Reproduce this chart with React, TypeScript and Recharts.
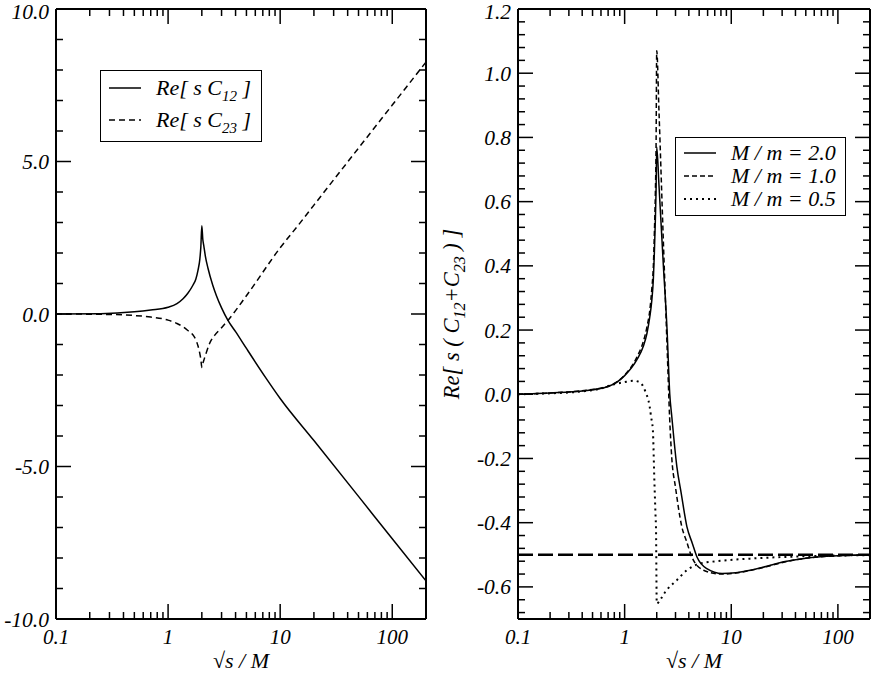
import { LineChart, Line, XAxis, YAxis, ReferenceLine, Legend } from 'recharts';

const FONT = "'Liberation Serif', serif";

// Left panel: Re[ s C12 ] and Re[ s C23 ] against sqrt(s)/M
const c12X = [0.1, 0.25, 0.5, 0.7, 1.0, 1.2, 1.36, 1.5, 1.67, 1.77, 1.85, 1.92, 1.96, 2.0, 2.04, 2.08, 2.15, 2.27, 2.5, 2.7, 3.0, 3.42, 4.0, 5.0, 7.5, 10, 20, 50, 100, 200];
const c12Y = [0, 0.01, 0.07, 0.13, 0.22, 0.34, 0.5, 0.68, 0.95, 1.15, 1.44, 1.8, 2.2, 2.89, 2.45, 2.25, 1.9, 1.5, 0.95, 0.6, 0.2, -0.21, -0.58, -1.13, -2.11, -2.77, -4.15, -5.98, -7.37, -8.75];

const c23X = [0.1, 0.25, 0.5, 0.7, 1.0, 1.2, 1.36, 1.5, 1.67, 1.77, 1.85, 1.92, 1.96, 2.0, 2.05, 2.1, 2.2, 2.35, 2.6, 3.0, 3.42, 5.0, 10, 15, 20, 50, 100, 200];
const c23Y = [0, -0.01, -0.05, -0.1, -0.2, -0.31, -0.42, -0.54, -0.69, -0.85, -1.05, -1.3, -1.48, -1.75, -1.6, -1.48, -1.25, -0.96, -0.7, -0.45, -0.21, 0.6, 2.17, 2.98, 3.57, 5.44, 6.85, 8.26];

// Right panel: Re[ s ( C12 + C23 ) ] for three mass ratios
const m20X = [0.1, 0.2, 0.4, 0.7, 1.0, 1.3, 1.5, 1.62, 1.72, 1.8, 1.86, 1.9, 1.94, 1.97, 2.0, 2.1, 2.3, 2.5, 2.65, 2.77, 3.09, 3.4, 3.84, 4.3, 4.77, 5.9, 8.2, 11, 15, 22, 31, 45, 64, 100, 200];
const m20Y = [0, 0.004, 0.01, 0.024, 0.058, 0.107, 0.15, 0.19, 0.24, 0.294, 0.36, 0.44, 0.54, 0.63, 0.77, 0.65, 0.41, 0.2, 0.0, -0.07, -0.226, -0.31, -0.413, -0.463, -0.507, -0.543, -0.558, -0.556, -0.548, -0.535, -0.522, -0.513, -0.507, -0.503, -0.501];

const m10X = [0.1, 0.2, 0.4, 0.7, 1.0, 1.3, 1.5, 1.62, 1.72, 1.8, 1.86, 1.9, 1.94, 1.97, 2.0, 2.1, 2.3, 2.5, 2.64, 2.77, 3.0, 3.44, 3.8, 4.27, 5.5, 7.9, 11, 15, 22, 31, 45, 64, 100, 200];
const m10Y = [0, 0.004, 0.011, 0.025, 0.06, 0.115, 0.165, 0.21, 0.26, 0.33, 0.4, 0.5, 0.62, 0.76, 1.07, 0.88, 0.49, 0.15, -0.07, -0.2, -0.29, -0.413, -0.457, -0.507, -0.548, -0.56, -0.557, -0.549, -0.536, -0.523, -0.513, -0.507, -0.503, -0.501];

const m05X = [0.1, 0.2, 0.4, 0.6, 0.78, 1.0, 1.23, 1.4, 1.5, 1.6, 1.67, 1.72, 1.77, 1.84, 1.9, 1.95, 1.97, 2.0, 2.2, 2.4, 3.09, 3.84, 5.1, 7.3, 15, 45, 200];
const m05Y = [0, 0.003, 0.009, 0.018, 0.03, 0.038, 0.042, 0.036, 0.023, 0.0, -0.018, -0.04, -0.07, -0.112, -0.268, -0.38, -0.423, -0.652, -0.636, -0.616, -0.579, -0.548, -0.527, -0.52, -0.512, -0.505, -0.501];

const asymptote = -0.5;

// Axis ticks
const xMajor = [0.1, 1, 10, 100];
const xMajorLabels = ['0.1', '1', '10', '100'];
const xMinor = [0.2, 0.3, 0.4, 0.5, 0.6, 0.7, 0.8, 0.9, 2, 3, 4, 5, 6, 7, 8, 9, 20, 30, 40, 50, 60, 70, 80, 90];
const xTicks = [...xMajor, ...xMinor].sort((a, b) => a - b);

const leftMajor = [-10, -5, 0, 5, 10];
const leftMajorLabels = ['-10.0', '-5.0', '0.0', '5.0', '10.0'];
const leftMinor = [-9, -8, -7, -6, -4, -3, -2, -1, 1, 2, 3, 4, 6, 7, 8, 9];
const leftTicks = [...leftMajor, ...leftMinor].sort((a, b) => a - b);

const rightMajor = [-0.6, -0.4, -0.2, 0, 0.2, 0.4, 0.6, 0.8, 1.0, 1.2];
const rightMajorLabels = ['-0.6', '-0.4', '-0.2', '0.0', '0.2', '0.4', '0.6', '0.8', '1.0', '1.2'];
const rightTicks: number[] = [];
for (let i = 0; i <= 47; i++) rightTicks.push(Math.round((-0.68 + 0.04 * i) * 100) / 100);

const zip = (xs: number[], ys: number[]) => xs.map((x, i) => ({ x, y: ys[i] }));

const findIdx = (arr: number[], v: number) => arr.findIndex((m) => Math.abs(m - v) < 1e-9);

const makeXTick = (side: 'top' | 'bottom') => (props: any) => {
  const { x, y, payload } = props;
  const idx = findIdx(xMajor, payload.value);
  const len = idx >= 0 ? 15 : 7;
  const dir = side === 'bottom' ? -1 : 1;
  return (
    <g>
      <line x1={x} x2={x} y1={y} y2={y + dir * len} stroke="#000" strokeWidth={1.5} />
      {side === 'bottom' && idx >= 0 && (
        <text x={x} y={y + 25} textAnchor="middle" fontFamily={FONT} fontStyle="italic" fontSize={21} fill="#000">
          {xMajorLabels[idx]}
        </text>
      )}
    </g>
  );
};

const makeYTick = (side: 'left' | 'right', major: number[], labels: string[]) => (props: any) => {
  const { x, y, payload } = props;
  const idx = findIdx(major, payload.value);
  const len = idx >= 0 ? 15 : 7;
  const dir = side === 'left' ? 1 : -1;
  return (
    <g>
      <line x1={x} x2={x + dir * len} y1={y} y2={y} stroke="#000" strokeWidth={1.5} />
      {side === 'left' && idx >= 0 && (
        <text x={x - 7} y={Math.max(y + 7.5, 19)} textAnchor="end" fontFamily={FONT} fontStyle="italic" fontSize={21.5} fill="#000">
          {labels[idx]}
        </text>
      )}
    </g>
  );
};

const xLabel = (props: any) => {
  const vb = props.viewBox;
  return (
    <text x={vb.x + vb.width / 2} y={vb.y + 49} textAnchor="middle" fontFamily={FONT} fontStyle="italic" fontSize={22} fill="#000">
      √s / M
    </text>
  );
};

const yLabelRight = (props: any) => {
  const vb = props.viewBox;
  const cy = vb.y + vb.height / 2;
  return (
    <text transform={`translate(23,${cy}) rotate(-90)`} textAnchor="middle" fontFamily={FONT} fontStyle="italic" fontSize={22.5} fill="#000">
      Re[ s ( C<tspan fontSize={16} dy={6}>12</tspan><tspan dy={-6}>+C</tspan><tspan fontSize={16} dy={6}>23</tspan><tspan dy={-6}> ) ]</tspan>
    </text>
  );
};

const axisLine = { stroke: '#000', strokeWidth: 2 };

const Sample = ({ dash, width = 1.5 }: { dash?: string; width?: number }) => (
  <svg width={32} height={6} style={{ position: 'absolute', left: 8, top: 9 }}>
    <line x1={0} x2={32} y1={3} y2={3} stroke="#000" strokeWidth={width} strokeDasharray={dash} />
  </svg>
);

const Sub = ({ children }: { children: string }) => (
  <span style={{ fontSize: 15, position: 'relative', top: 6 }}>{children}</span>
);

const textStyle = { position: 'absolute' as const, left: 55, top: 0, lineHeight: '24px', whiteSpace: 'nowrap' as const };

const LeftLegend = () => (
  <div style={{ position: 'relative', width: 162, height: 72, border: '1.5px solid #000', boxSizing: 'border-box', background: '#fff', fontFamily: FONT, fontStyle: 'italic', fontSize: 22, color: '#000' }}>
    <div style={{ position: 'absolute', left: 0, top: 5, width: 160, height: 24 }}>
      <Sample />
      <span style={textStyle}>Re[ s C<Sub>12</Sub> ]</span>
    </div>
    <div style={{ position: 'absolute', left: 0, top: 37, width: 160, height: 24 }}>
      <Sample dash="6 4" />
      <span style={textStyle}>Re[ s C<Sub>23</Sub> ]</span>
    </div>
  </div>
);

const RightLegend = () => (
  <div style={{ position: 'relative', width: 171, height: 79, border: '1.5px solid #000', boxSizing: 'border-box', background: '#fff', fontFamily: FONT, fontStyle: 'italic', fontSize: 22, color: '#000' }}>
    <div style={{ position: 'absolute', left: 0, top: 3, width: 168, height: 24 }}>
      <Sample />
      <span style={textStyle}>M / m = 2.0</span>
    </div>
    <div style={{ position: 'absolute', left: 0, top: 26, width: 168, height: 24 }}>
      <Sample dash="5 3" />
      <span style={textStyle}>M / m = 1.0</span>
    </div>
    <div style={{ position: 'absolute', left: 0, top: 49, width: 168, height: 24 }}>
      <Sample dash="2 4" width={2} />
      <span style={textStyle}>M / m = 0.5</span>
    </div>
  </div>
);

// axes of size 1 px: zero-sized axes are not drawn
const frameAxes = (yDomain: number[], yTicks: number[], major: number[], labels: string[], yLabel?: any) => [
  <XAxis key="xb" xAxisId="b" dataKey="x" type="number" scale="log" domain={[0.1, 200]} allowDataOverflow ticks={xTicks} interval={0} tick={makeXTick('bottom')} tickLine={false} tickSize={0} tickMargin={0} height={1} axisLine={axisLine} label={{ content: xLabel }} />,
  <XAxis key="xt" xAxisId="t" orientation="top" dataKey="x" type="number" scale="log" domain={[0.1, 200]} allowDataOverflow ticks={xTicks} interval={0} tick={makeXTick('top')} tickLine={false} tickSize={0} tickMargin={0} height={1} axisLine={axisLine} />,
  <YAxis key="yl" yAxisId="l" type="number" domain={yDomain} allowDataOverflow ticks={yTicks} interval={0} tick={makeYTick('left', major, labels)} tickLine={false} tickSize={0} tickMargin={0} width={1} axisLine={axisLine} label={yLabel ? { content: yLabel } : undefined} />,
  <YAxis key="yr" yAxisId="r" orientation="right" type="number" domain={yDomain} allowDataOverflow ticks={yTicks} interval={0} tick={makeYTick('right', major, labels)} tickLine={false} tickSize={0} tickMargin={0} width={1} axisLine={axisLine} />,
];

export default function App() {
  return (
    <div style={{ position: 'absolute', left: 0, top: 0, width: 872, height: 673, background: '#fff' }}>
      <div style={{ position: 'absolute', left: 0, top: 0 }}>
        <LineChart width={436} height={673} margin={{ top: 8, right: 9, bottom: 53, left: 55 }}>
          {frameAxes([-10, 10], leftTicks, leftMajor, leftMajorLabels)}
          <Line xAxisId="b" yAxisId="l" data={zip(c12X, c12Y)} dataKey="y" type="monotone" stroke="#000" strokeWidth={1.5} dot={false} isAnimationActive={false} />
          <Line xAxisId="b" yAxisId="l" data={zip(c23X, c23Y)} dataKey="y" type="monotone" stroke="#000" strokeWidth={1.5} strokeDasharray="6 4" dot={false} isAnimationActive={false} />
          <Legend layout="vertical" align="center" verticalAlign="middle" content={() => <LeftLegend />} wrapperStyle={{ left: 100, top: 70, width: 162, height: 72 }} />
        </LineChart>
      </div>
      <div style={{ position: 'absolute', left: 436, top: 0 }}>
        <LineChart width={436} height={673} margin={{ top: 8, right: 1, bottom: 53, left: 81 }}>
          {frameAxes([-0.7, 1.2], rightTicks, rightMajor, rightMajorLabels, yLabelRight)}
          <ReferenceLine xAxisId="b" yAxisId="l" y={asymptote} stroke="#000" strokeWidth={2.5} strokeDasharray="15 5" />
          <Line xAxisId="b" yAxisId="l" data={zip(m20X, m20Y)} dataKey="y" type="monotone" stroke="#000" strokeWidth={1.5} dot={false} isAnimationActive={false} />
          <Line xAxisId="b" yAxisId="l" data={zip(m10X, m10Y)} dataKey="y" type="monotone" stroke="#000" strokeWidth={1.5} strokeDasharray="5 3" dot={false} isAnimationActive={false} />
          <Line xAxisId="b" yAxisId="l" data={zip(m05X, m05Y)} dataKey="y" type="monotone" stroke="#000" strokeWidth={2} strokeDasharray="2 4" dot={false} isAnimationActive={false} />
          <Legend layout="vertical" align="center" verticalAlign="middle" content={() => <RightLegend />} wrapperStyle={{ left: 239, top: 137, width: 171, height: 79 }} />
        </LineChart>
      </div>
    </div>
  );
}
